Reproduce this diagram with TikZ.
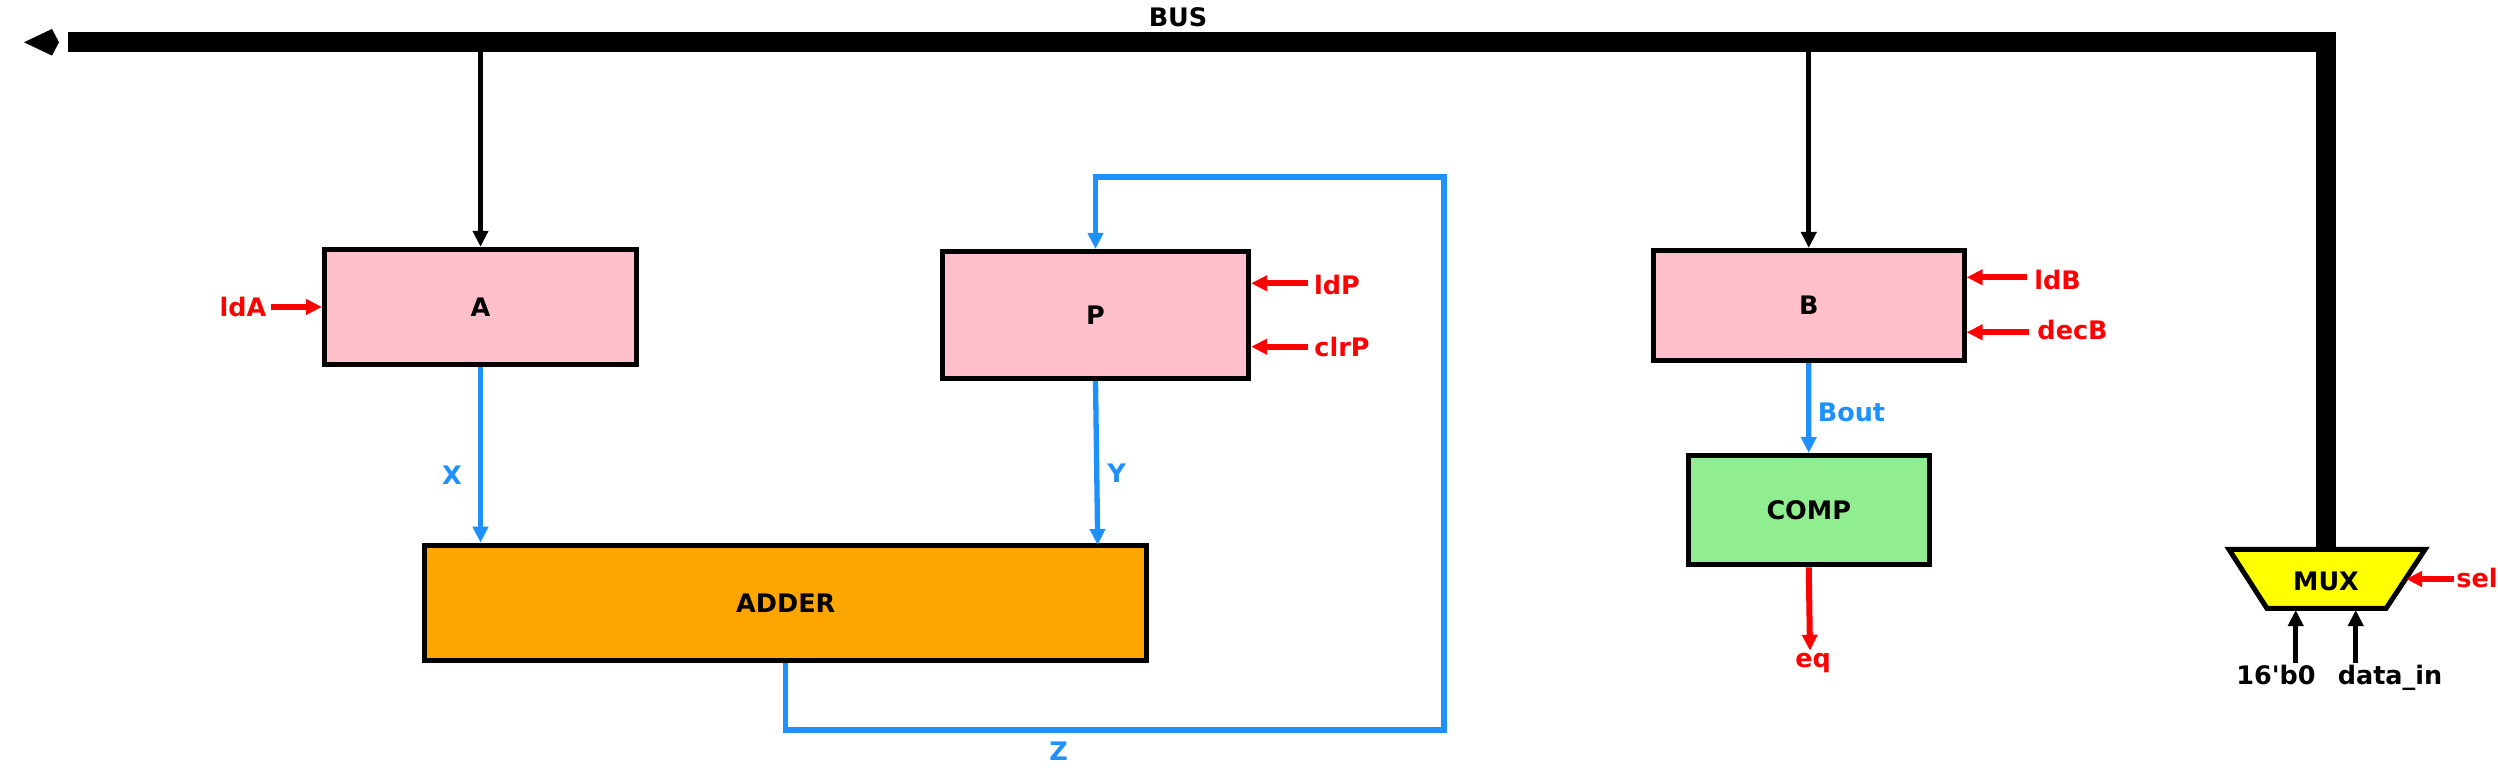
\documentclass[tikz,border=0pt]{standalone}
\usepackage{fontspec}
\setmainfont{DejaVu Sans}
\usetikzlibrary{arrows.meta,calc}
\definecolor{pinkc}{HTML}{FFC0CB}
\definecolor{orangec}{HTML}{FFA500}
\definecolor{greenc}{HTML}{90EE90}
\definecolor{yellowc}{HTML}{FFFF00}
\definecolor{bluec}{HTML}{1E90FF}
\definecolor{redc}{HTML}{FF0000}
\begin{document}
\begin{tikzpicture}[x=0.01cm,y=-0.01cm,
  txt/.style={font=\fontsize{7.25}{8.7}\selectfont\bfseries},
  lbl/.style={txt, inner sep=0pt, anchor=base},
  block/.style={txt, draw=black, line width=0.05cm, inner sep=0pt},
  tipc/.style={-{Triangle[length=0.16cm,width=0.15cm]}},
  bluew/.style={draw=bluec, line width=0.053cm, tipc},
  redw/.style={draw=redc, line width=0.06cm, tipc},
  blackw/.style={draw=black, line width=0.05cm, tipc},
  buswire/.style={draw=black, line width=0.2cm, line join=miter},
  bushead/.style={fill=black}
]
\useasboundingbox (0,0) rectangle (2498,768);

% blocks
\node[block, fill=pinkc, minimum width=3.12cm, minimum height=1.153cm] (A) at (480.5,307) {A};
\node[block, fill=pinkc, minimum width=3.06cm, minimum height=1.27cm] (P) at (1095.5,315) {P};
\node[block, fill=orangec, minimum width=7.215cm, minimum height=1.153cm] (adder) at (785.75,602.9) {ADDER};
\node[block, fill=pinkc, minimum width=3.105cm, minimum height=1.10cm] (B) at (1808.75,305.5) {B};
\node[block, fill=greenc, minimum width=2.41cm, minimum height=1.093cm] (comp) at (1808.7,510.2) {COMP};

% MUX
\draw[line width=0.05cm, fill=yellowc, line join=miter] (2229,549.5) -- (2425,549.5) -- (2386,608.5) -- (2267,608.5) -- cycle;
\node[lbl] (mux) at (2326,590.7) {MUX};
\coordinate (muxtop) at (2326,549.5);
\coordinate (muxsel) at (2406,579);
\coordinate (muxin1) at (2295.7,610);
\coordinate (muxin2) at (2355.7,610);

% bus coordinates
\coordinate (busy) at (0,42.3);
\coordinate (busE) at (68,42.3);
\coordinate (busL) at (24,42.3);
\coordinate (tapA) at (480.5,42.3);
\coordinate (tapB) at (1808.75,42.3);

% bus drops
\draw[blackw] (tapA) -- (A.north);
\draw[blackw] (tapB) -- (B.north);

% bus
\draw[buswire] (muxtop) -- (muxtop |- busy) -- (busE);
\fill[bushead] (busL) -- ++(28,-13.3) -- ++(7,13.3) -- ++(-7,13.3) -- cycle;
\node[lbl] (bus) at (1178,26.7) {BUS};

% A -> adder
\draw[bluew] (A.south) -- (A.south |- adder.north);
\node[lbl, text=bluec] (X) at (452,485) {X};

% P -> adder
\coordinate (ytip) at (1097.7,545);
\draw[bluew] (P.south) -- (ytip);
\node[lbl, text=bluec] (Y) at (1116.5,482.7) {Y};

% feedback Z
\coordinate (zbr) at (1444,730);
\coordinate (ztr) at (1444,177);
\draw[bluew, line join=miter] (adder.south) |- (zbr) -- (ztr) -| (P.north);
\node[lbl, text=bluec] (Z) at (1058.7,760.7) {Z};

% control signals
\coordinate (ldAs) at (271,307);
\draw[redw] (ldAs) -- (A.west);
\node[lbl, text=redc] (ldA) at (243,316.7) {ldA};

\coordinate (ldPs) at (1308,283.3);
\draw[redw] (ldPs) -- (ldPs -| P.east);
\node[lbl, text=redc] (ldP) at (1337,295) {ldP};

\coordinate (clrPs) at (1308,346.7);
\draw[redw] (clrPs) -- (clrPs -| P.east);
\node[lbl, text=redc] (clrP) at (1342,356.7) {clrP};

\coordinate (ldBs) at (2027,277.3);
\draw[redw] (ldBs) -- (ldBs -| B.east);
\node[lbl, text=redc] (ldB) at (2057.5,290) {ldB};

\coordinate (decBs) at (2028.6,332.3);
\draw[redw] (decBs) -- (decBs -| B.east);
\node[lbl, text=redc] (decB) at (2072.5,340) {decB};

% B -> COMP
\draw[bluew] (B.south) -- (comp.north);
\node[lbl, text=bluec] (bout) at (1851.5,421.7) {Bout};

% COMP -> eq
\coordinate (eqtip) at (1810,650.7);
\draw[redw] (comp.south) -- (eqtip);
\node[lbl, text=redc] (eq) at (1813,668) {eq};

% MUX inputs
\coordinate (selS) at (2454,579);
\draw[redw] (selS) -- (muxsel);
\node[lbl, text=redc] (sel) at (2477,587.3) {sel};

\coordinate (in1s) at (2295.7,663);
\coordinate (in2s) at (2355.7,663);
\draw[blackw] (in1s) -- (muxin1);
\draw[blackw] (in2s) -- (muxin2);
\node[lbl] (zero) at (2276,684.3) {16\textquotesingle b0};
\node[lbl] (din) at (2390,684.3) {data\_in};
\end{tikzpicture}
\end{document}
